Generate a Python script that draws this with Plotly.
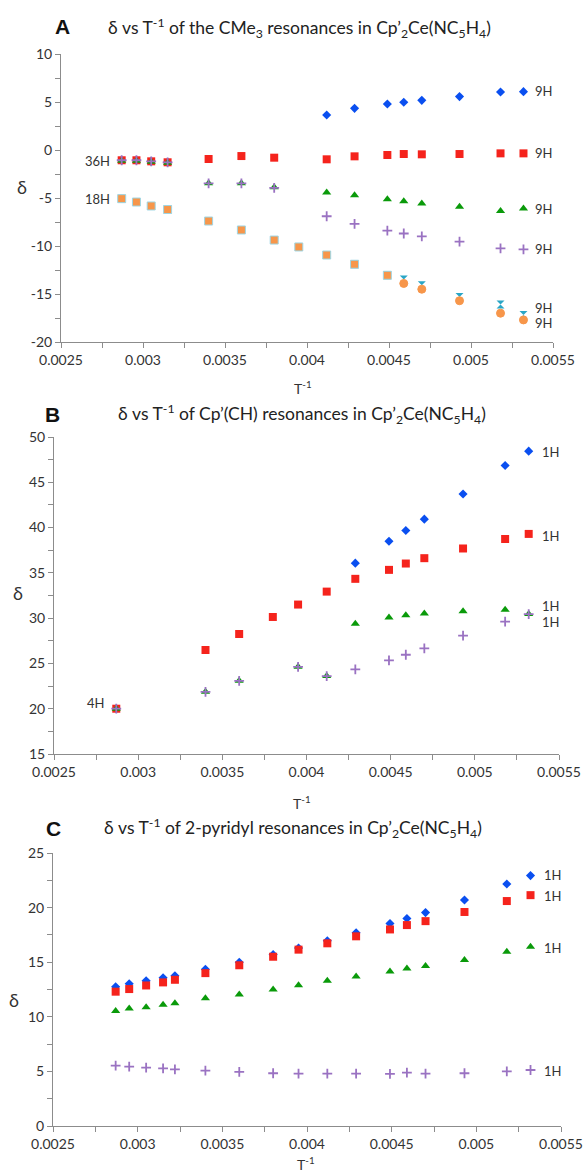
import plotly.graph_objects as go

# ---------------- data ----------------
x_tick_vals = [0.0025, 0.003, 0.0035, 0.004, 0.0045, 0.005, 0.0055]
x_tick_text = ["0.0025", "0.003", "0.0035", "0.004", "0.0045", "0.005", "0.0055"]
ya_tick_vals = [-20, -15, -10, -5, 0, 5, 10]
ya_tick_text = ["-20", "-15", "-10", "-5", "0", "5", "10"]
yb_tick_vals = [15, 20, 25, 30, 35, 40, 45, 50]
yb_tick_text = ["15", "20", "25", "30", "35", "40", "45", "50"]
yc_tick_vals = [0, 5, 10, 15, 20, 25]
yc_tick_text = ["0", "5", "10", "15", "20", "25"]

# Panel A: CMe3 resonances
x_a = [0.00287, 0.00296, 0.00305, 0.00315, 0.00340, 0.00360, 0.00380, 0.00395,
       0.00412, 0.00429, 0.00449, 0.00459, 0.00470, 0.00493, 0.00518, 0.00532]
a_blue = [-1.07, -1.07, -1.18, -1.28, None, None, None, None,
          3.65, 4.34, 4.79, 4.97, 5.17, 5.56, 6.04, 6.08]
a_red = [-1.07, -1.07, -1.18, -1.28, -0.94, -0.63, -0.80, None,
         -0.97, -0.66, -0.52, -0.42, -0.45, -0.42, -0.35, -0.35]
a_green = [-1.12, -1.12, -1.22, -1.32, -3.47, -3.47, -3.89, None,
           -4.44, -4.72, -5.14, -5.35, -5.56, -5.90, -6.35, -6.10]
a_purple = [-1.07, -1.07, -1.18, -1.28, -3.47, -3.47, -3.95, None,
            -6.90, -7.70, -8.40, -8.70, -9.00, -9.55, -10.24, -10.35]
a_cyan = [-5.07, -5.42, -5.83, -6.20, -7.40, -8.33, -9.38, -10.10,
          -10.94, -11.90, -13.05, -13.50, -14.10, -15.30, -16.10, -17.20]
a_orange = [-5.07, -5.42, -5.83, -6.20, -7.40, -8.33, -9.38, -10.10,
            -10.94, -11.90, -13.05, -13.90, -14.50, -15.70, -17.00, -17.70]
a_orange_square_count = 11
a_right_labels = ["9H", "9H", "9H", "9H", "9H", "9H"]
a_right_label_y = [6.18, -0.31, -6.15, -10.3, -16.5, -18.0]
a_left_labels = ["36H", "18H"]
a_left_label_y = [-1.1, -5.1]

# Panel B: Cp'(CH) resonances
x_b = [0.00287, 0.00340, 0.00360, 0.00380, 0.00395, 0.00412, 0.00429,
       0.00449, 0.00459, 0.00470, 0.00493, 0.00518, 0.00532]
b_blue = [20.0, None, None, None, None, None, 36.07,
          38.49, 39.67, 40.93, 43.70, 46.86, 48.44]
b_red = [20.0, 26.48, 28.25, 30.13, 31.50, 32.93, 34.34,
         35.33, 36.03, 36.62, 37.69, 38.74, 39.30]
b_green = [20.0, 21.86, 23.08, None, 24.63, 23.60, 29.39,
           30.06, 30.31, 30.50, 30.76, 30.94, 30.45]
b_purple = [20.0, 21.86, 23.08, None, 24.63, 23.60, 24.34,
            25.33, 25.96, 26.66, 28.06, 29.61, 30.45]
b_right_labels = ["1H", "1H", "1H", "1H"]
b_right_label_y = [48.3, 39.1, 31.3, 29.6]
b_left_labels = ["4H"]
b_left_label_y = [20.6]

# Panel C: 2-pyridyl resonances
x_c = [0.00287, 0.00295, 0.00305, 0.00315, 0.00322, 0.00340, 0.00360, 0.00380,
       0.00395, 0.00412, 0.00429, 0.00449, 0.00459, 0.00470, 0.00493, 0.00518, 0.00532]
c_blue = [12.75, 13.02, 13.30, 13.57, 13.75, 14.36, 15.00, 15.70,
          16.30, 16.97, 17.70, 18.55, 19.00, 19.54, 20.70, 22.16, 22.93]
c_red = [12.30, 12.54, 12.87, 13.15, 13.39, 14.00, 14.72, 15.50,
         16.15, 16.73, 17.37, 18.00, 18.40, 18.76, 19.60, 20.60, 21.14]
c_green = [10.53, 10.75, 10.87, 11.11, 11.23, 11.69, 12.05, 12.50,
           12.90, 13.30, 13.69, 14.15, 14.42, 14.66, 15.21, 15.95, 16.42]
c_purple = [5.53, 5.43, 5.34, 5.28, 5.19, 5.07, 4.95, 4.83,
            4.80, 4.80, 4.80, 4.77, 4.89, 4.80, 4.83, 5.00, 5.13]
c_right_labels = ["1H", "1H", "1H", "1H"]
c_right_label_y = [23.0, 21.1, 16.3, 5.0]

titles = [
    "δ vs T<sup>-1</sup> of the CMe<sub>3</sub> resonances in Cp’<sub>2</sub>Ce(NC<sub>5</sub>H<sub>4</sub>)",
    "δ vs T<sup>-1</sup> of Cp’(CH) resonances in Cp’<sub>2</sub>Ce(NC<sub>5</sub>H<sub>4</sub>)",
    "δ vs T<sup>-1</sup> of 2-pyridyl resonances in Cp’<sub>2</sub>Ce(NC<sub>5</sub>H<sub>4</sub>)",
]
panel_letters = ["A", "B", "C"]

# ---------------- styling ----------------
W, H = 585, 1171
FONT = "Lato"
TXT = "#333333"
AXC = "#8c8c8c"
BLUE = "#0a4ff0"
RED = "#f5231c"
GREEN = "#0a9a0a"
PURPLE = "#9a72c2"
CYAN = "#2aa6c6"
ORANGE = "#f7964a"


def px_x(p):
    return p / W


def px_y(p):
    return 1 - p / H


fig = go.Figure()


def add(xs, ys, sym, color, size, xa, ya, line_color=None, line_w=0):
    fig.add_trace(go.Scatter(
        x=xs, y=ys, mode="markers", xaxis=xa, yaxis=ya, showlegend=False,
        marker=dict(symbol=sym, color=color, size=size,
                    line=dict(color=line_color or color, width=line_w)),
    ))


# panel A
add(x_a, a_blue, "diamond", BLUE, 7, "x", "y")
add(x_a, a_red, "square", RED, 8, "x", "y")
add(x_a, a_green, "triangle-up", GREEN, 8, "x", "y")
add(x_a, a_purple, "cross-thin", PURPLE, 7, "x", "y", PURPLE, 1.8)
add(x_a, a_cyan, "hourglass", CYAN, 8, "x", "y")
orange_sym = ["square"] * a_orange_square_count + ["circle"] * (len(x_a) - a_orange_square_count)
orange_line = ["#9fd6e4"] * a_orange_square_count + [ORANGE] * (len(x_a) - a_orange_square_count)
fig.add_trace(go.Scatter(
    x=x_a, y=a_orange, mode="markers", xaxis="x", yaxis="y", showlegend=False,
    marker=dict(symbol=orange_sym, color=ORANGE, size=8,
                line=dict(color=orange_line, width=1)),
))

# panel B
add(x_b, b_blue, "diamond", BLUE, 7, "x2", "y2")
add(x_b, b_red, "square", RED, 8, "x2", "y2")
add(x_b, b_green, "triangle-up", GREEN, 8, "x2", "y2")
add(x_b, b_purple, "cross-thin", PURPLE, 7, "x2", "y2", PURPLE, 1.8)

# panel C
add(x_c, c_blue, "diamond", BLUE, 7, "x3", "y3")
add(x_c, c_red, "square", RED, 8, "x3", "y3")
add(x_c, c_green, "triangle-up", GREEN, 8, "x3", "y3")
add(x_c, c_purple, "cross-thin", PURPLE, 7, "x3", "y3", PURPLE, 1.8)

# axes geometry (page pixel positions)
panels = [
    dict(x0=61, x1=553, ytop=54, ybot=342, yr=[-20, 10], tv=ya_tick_vals, tt=ya_tick_text),
    dict(x0=54, x1=559, ytop=437, ybot=754, yr=[15, 50], tv=yb_tick_vals, tt=yb_tick_text),
    dict(x0=53, x1=561, ytop=853, ybot=1126, yr=[0, 25], tv=yc_tick_vals, tt=yc_tick_text),
]

layout = dict(
    width=W, height=H, margin=dict(l=0, r=0, t=0, b=0, autoexpand=False),
    paper_bgcolor="white", plot_bgcolor="white",
    font=dict(family=FONT, color=TXT, size=14),
)
for i, p in enumerate(panels):
    sfx = "" if i == 0 else str(i + 1)
    layout["xaxis" + sfx] = dict(
        domain=[px_x(p["x0"]), px_x(p["x1"])], anchor="y" + sfx, automargin=False,
        range=[0.0025, 0.0055], tickvals=x_tick_vals, ticktext=x_tick_text,
        showline=True, linecolor=AXC, linewidth=1, ticks="outside", ticklen=5,
        tickcolor=AXC, showgrid=False, zeroline=False,
        tickfont=dict(size=14, family=FONT, color=TXT),
        minor=dict(dtick=0.00025, tick0=0.0025, ticks="outside", ticklen=5,
                   tickcolor=AXC, showgrid=False),
    )
    lo, hi = p["yr"]
    layout["yaxis" + sfx] = dict(
        domain=[px_y(p["ybot"]), px_y(p["ytop"])], anchor="x" + sfx, automargin=False,
        range=[lo, hi], tickvals=p["tv"], ticktext=p["tt"],
        showline=True, linecolor=AXC, linewidth=1, ticks="outside", ticklen=5,
        tickcolor=AXC, showgrid=False, zeroline=False,
        tickfont=dict(size=14, family=FONT, color=TXT),
        minor=dict(dtick=2.5, tick0=lo, ticks="outside", ticklen=5,
                   tickcolor=AXC, showgrid=False),
    )
fig.update_layout(**layout)

ann = []
title_pos = [(299, 28), (302, 414), (293, 828)]
letter_pos = [(62, 26), (52, 414), (53, 828)]
delta_pos = [(22, 187), (18, 593), (14, 1000)]
tinv_pos = [(303, 387), (302, 802), (306, 1163)]
for i in range(3):
    ann.append(dict(xref="paper", yref="paper", x=px_x(title_pos[i][0]), y=px_y(title_pos[i][1]),
                    text=titles[i], showarrow=False, xanchor="center", yanchor="middle",
                    font=dict(size=17.5, family=FONT, color="#222222")))
    ann.append(dict(xref="paper", yref="paper", x=px_x(letter_pos[i][0]), y=px_y(letter_pos[i][1]),
                    text="<b>" + panel_letters[i] + "</b>", showarrow=False, xanchor="center",
                    yanchor="middle", font=dict(size=21, family="Liberation Sans", color="#111111")))
    ann.append(dict(xref="paper", yref="paper", x=px_x(delta_pos[i][0]), y=px_y(delta_pos[i][1]),
                    text="δ", showarrow=False, xanchor="center", yanchor="middle",
                    font=dict(size=18, family=FONT, color=TXT)))
    ann.append(dict(xref="paper", yref="paper", x=px_x(tinv_pos[i][0]), y=px_y(tinv_pos[i][1]),
                    text="T<sup>-1</sup>", showarrow=False, xanchor="center", yanchor="middle",
                    font=dict(size=14, family=FONT, color=TXT)))

label_font = dict(size=13, family=FONT, color=TXT)
for t, yv in zip(a_right_labels, a_right_label_y):
    ann.append(dict(xref="x", yref="y", x=0.00538, y=yv, text=t, showarrow=False,
                    xanchor="left", yanchor="middle", font=label_font))
for t, yv in zip(a_left_labels, a_left_label_y):
    ann.append(dict(xref="x", yref="y", x=0.00281, y=yv, text=t, showarrow=False,
                    xanchor="right", yanchor="middle", font=label_font))
for t, yv in zip(b_right_labels, b_right_label_y):
    ann.append(dict(xref="x2", yref="y2", x=0.00539, y=yv, text=t, showarrow=False,
                    xanchor="left", yanchor="middle", font=label_font))
for t, yv in zip(b_left_labels, b_left_label_y):
    ann.append(dict(xref="x2", yref="y2", x=0.00281, y=yv, text=t, showarrow=False,
                    xanchor="right", yanchor="middle", font=label_font))
for t, yv in zip(c_right_labels, c_right_label_y):
    ann.append(dict(xref="x3", yref="y3", x=0.00539, y=yv, text=t, showarrow=False,
                    xanchor="left", yanchor="middle", font=label_font))

fig.update_layout(annotations=ann)
fig.write_html(
    "out.html",
    config={"displayModeBar": False},
    post_script="document.body.style.margin='0px';document.body.style.overflow='hidden';",
)
